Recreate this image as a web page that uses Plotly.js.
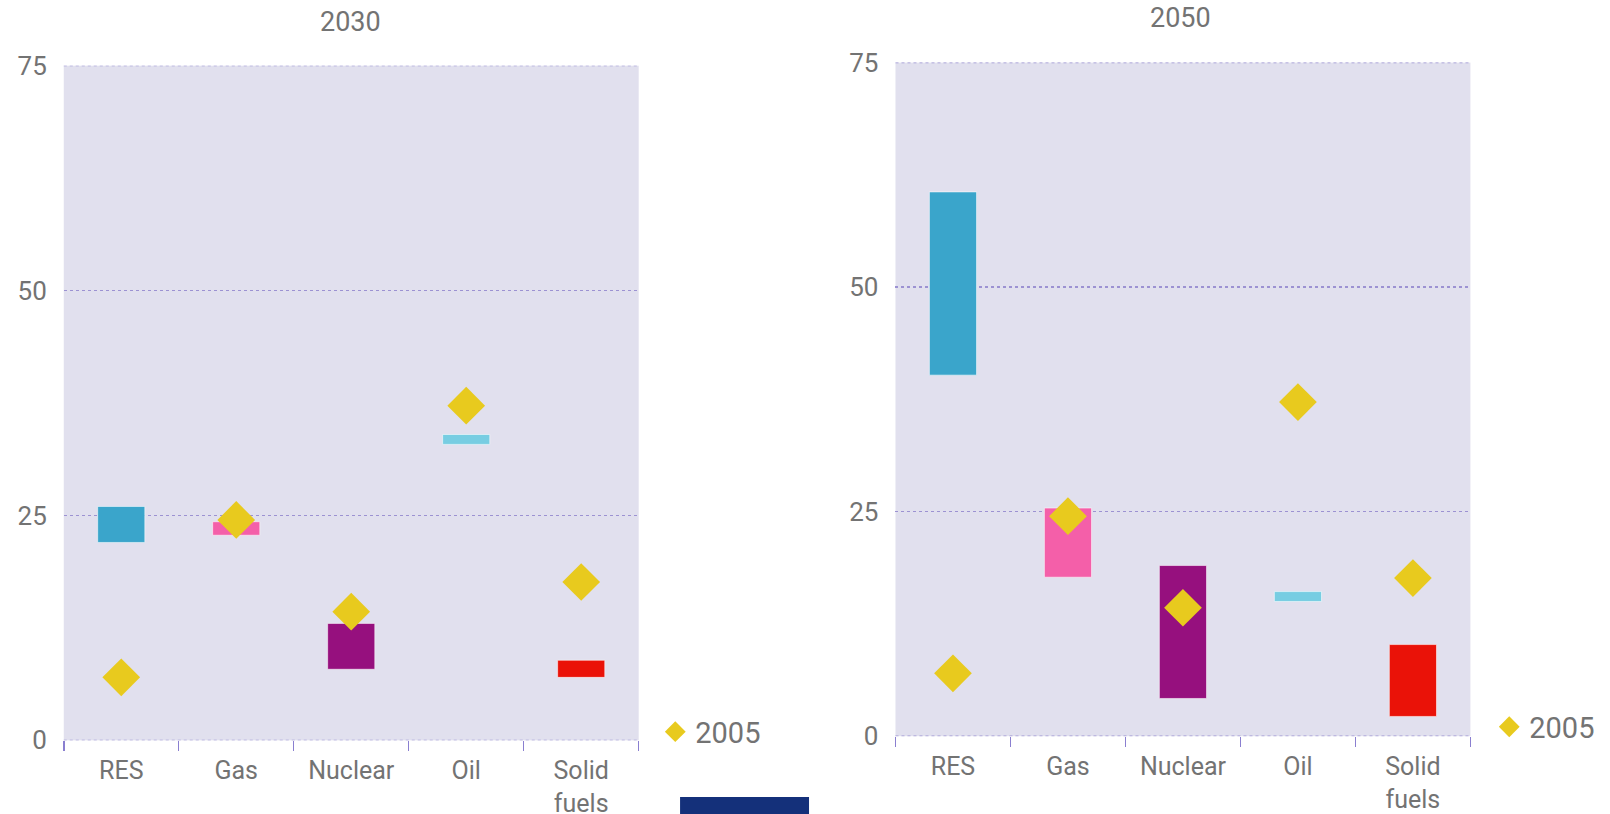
<!DOCTYPE html>
<html>
<head>
<meta charset="utf-8">
<script src="https://cdn.plot.ly/plotly-3.0.1.min.js"></script>
<style>html,body{margin:0;padding:0;background:#fff;}#chart{width:1610px;height:814px;}</style>
</head>
<body>
<div id="chart"></div>
<script>
// Categories and tick labels
var categories = ["RES", "Gas", "Nuclear", "Oil", "Solid fuels"];
var tickLabels = ["RES", "Gas", "Nuclear", "Oil", "Solid<br>fuels"];
var barColors = ["#3AA5CB", "#F45FA9", "#96107E", "#77CDE2", "#EA1208"];

// 2030 ranges (low / high)
var low2030  = [22.0, 22.8, 7.9, 32.9, 7.0];
var high2030 = [26.0, 24.3, 13.0, 34.0, 8.9];

// 2050 ranges (low / high)
var low2050  = [40.2, 17.7, 4.2, 15.0, 2.2];
var high2050 = [60.6, 25.4, 19.0, 16.1, 10.2];

// 2005 reference values
var val2005 = [7.0, 24.5, 14.3, 37.2, 17.6];

var panelTitles = ["2030", "2050"];
var legendName = "2005";
var yTicks = [0, 25, 50, 75];

var FONT = "Roboto, 'Open Sans', sans-serif";
var TXT = "#737373";
var GRID = "#9C92D2";

function diff(hi, lo) { return hi.map(function (h, i) { return h - lo[i]; }); }

var traces = [
  {
    type: "bar", x: categories, y: diff(high2030, low2030), base: low2030,
    xaxis: "x", yaxis: "y", width: 0.41,
    marker: { color: barColors, line: { color: "rgba(255,255,255,0.55)", width: 1 } },
    showlegend: false, hoverinfo: "skip"
  },
  {
    type: "scatter", mode: "markers", x: categories, y: val2005, name: legendName,
    xaxis: "x", yaxis: "y", legend: "legend",
    marker: { symbol: "diamond", size: 29, color: "#E8CA1E" }
  },
  {
    type: "bar", x: categories, y: diff(high2050, low2050), base: low2050,
    xaxis: "x2", yaxis: "y2", width: 0.41,
    marker: { color: barColors, line: { color: "rgba(255,255,255,0.55)", width: 1 } },
    showlegend: false, hoverinfo: "skip"
  },
  {
    type: "scatter", mode: "markers", x: categories, y: val2005, name: legendName,
    xaxis: "x2", yaxis: "y2", legend: "legend2",
    marker: { symbol: "diamond", size: 29, color: "#E8CA1E" }
  }
];

function xAxis(domain, anchor) {
  return {
    domain: domain, anchor: anchor, type: "category",
    tickvals: categories, ticktext: tickLabels,
    tickson: "boundaries", ticks: "outside", ticklen: 10, tickwidth: 1.5, tickcolor: "#8A7FD0",
    ticklabelstandoff: 13,
    showgrid: false, showline: false, zeroline: false,
    tickfont: { family: FONT, size: 25, color: TXT },
    fixedrange: true
  };
}
function yAxis(domain, anchor) {
  return {
    domain: domain, anchor: anchor, range: [0, 75],
    tickvals: yTicks, ticks: "", ticklabelstandoff: 16,
    showgrid: true, gridcolor: GRID, griddash: "dot", gridwidth: 1.3,
    zeroline: false, showline: false,
    tickfont: { family: FONT, size: 26, color: TXT },
    fixedrange: true
  };
}

// dotted lines at the edges of the value range (0 and 75), drawn on the axes' own scale
var edgeLines = [];
[["x", "y"], ["x2", "y2"]].forEach(function (ax) {
  [yTicks[0], yTicks[yTicks.length - 1]].forEach(function (v) {
    edgeLines.push({
      type: "line", xref: ax[0] + " domain", yref: ax[1], x0: 0, x1: 1, y0: v, y1: v,
      line: { color: GRID, width: 1.3, dash: "dot" }, layer: "below"
    });
  });
});

var layout = {
  width: 1610, height: 814,
  margin: { l: 0, r: 0, t: 0, b: 0 },
  paper_bgcolor: "#ffffff",
  plot_bgcolor: "#E1E0EE",
  font: { family: FONT, color: TXT },
  xaxis: xAxis([0.0396, 0.3967], "y"),
  yaxis: yAxis([0.0905, 0.9193], "x"),
  xaxis2: xAxis([0.5562, 0.9133], "y2"),
  yaxis2: yAxis([0.0956, 0.9231], "x2"),
  showlegend: true,
  legend: {
    x: 0.407, y: 0.101, xanchor: "left", yanchor: "middle",
    bgcolor: "rgba(0,0,0,0)", font: { family: FONT, size: 29, color: TXT }
  },
  legend2: {
    x: 0.925, y: 0.107, xanchor: "left", yanchor: "middle",
    bgcolor: "rgba(0,0,0,0)", font: { family: FONT, size: 29, color: TXT }
  },
  annotations: [
    { text: panelTitles[0], xref: "paper", yref: "paper", x: 0.2174, y: 0.973, xanchor: "center", yanchor: "middle",
      showarrow: false, font: { family: FONT, size: 27, color: TXT } },
    { text: panelTitles[1], xref: "paper", yref: "paper", x: 0.7335, y: 0.978, xanchor: "center", yanchor: "middle",
      showarrow: false, font: { family: FONT, size: 27, color: TXT } }
  ],
  shapes: edgeLines.concat([
    { type: "rect", xref: "paper", yref: "paper", x0: 0.4224, x1: 0.5025, y0: -0.01, y1: 0.0209,
      fillcolor: "#14307A", line: { width: 0 } }
  ])
};

Plotly.newPlot("chart", traces, layout, { staticPlot: true, displayModeBar: false });
</script>
</body>
</html>
